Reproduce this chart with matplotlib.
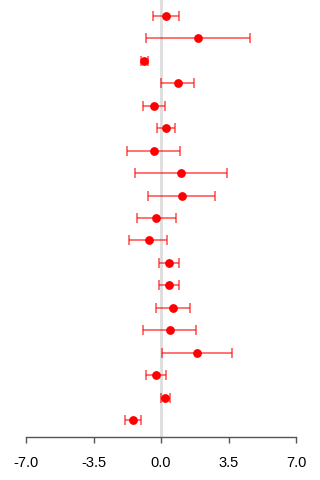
import matplotlib
matplotlib.use("Agg")
import matplotlib.pyplot as plt
import numpy as np

plt.rcParams['font.family'] = ['Liberation Sans', 'DejaVu Sans']

# Effect estimates with lower / upper confidence limits, listed top to bottom
estimate = [0.24, 1.90, -0.87, 0.88, -0.36, 0.26, -0.38, 1.04, 1.07, -0.24,
            -0.64, 0.41, 0.40, 0.61, 0.47, 1.87, -0.24, 0.21, -1.47]
lower = [-0.43, -0.79, -1.04, 0.02, -0.92, -0.19, -1.76, -1.35, -0.66, -1.26,
         -1.64, -0.10, -0.12, -0.26, -0.92, 0.03, -0.76, 0.00, -1.87]
upper = [0.92, 4.60, -0.67, 1.73, 0.22, 0.74, 1.00, 3.42, 2.80, 0.76,
         0.33, 0.93, 0.92, 1.49, 1.83, 3.70, 0.28, 0.47, -1.05]
x_ticks = [-7.0, -3.5, 0.0, 3.5, 7.0]

est = np.array(estimate)
lo = np.array(lower)
hi = np.array(upper)
rows = np.arange(len(est))

fig = plt.figure(figsize=(3.2, 4.8), dpi=100)
ax = fig.add_axes([26 / 320, 43 / 480, 270 / 320, 437 / 480])

ax.axvline(0, color='#dddddd', lw=2, zorder=0)

ax.errorbar(est, rows, xerr=[est - lo, hi - est], fmt='none',
            ecolor=(1, 0, 0, 0.7), elinewidth=1.1, capsize=3.5, capthick=1.1,
            zorder=2)
ax.plot(est, rows, 'o', color='#ff0000', markersize=5.3, zorder=3)

ax.set_xlim(-7, 7)
ax.set_ylim(len(est) - 1 + 0.758, -0.713)
ax.set_xticks(x_ticks)
ax.set_xticklabels([f"{t:.1f}" for t in x_ticks])
ax.set_yticks([])

for side in ['top', 'right', 'left']:
    ax.spines[side].set_visible(False)
ax.spines['bottom'].set_color('#555555')
ax.spines['bottom'].set_linewidth(1)
ax.tick_params(axis='x', direction='out', length=4, width=1, color='#555555',
               labelsize=10.5, labelcolor='black', pad=10)

fig.savefig('out.png', dpi=100)
